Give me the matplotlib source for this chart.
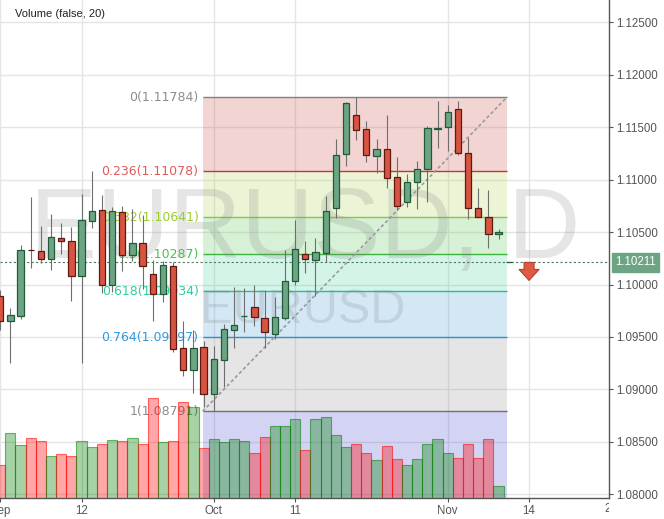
import numpy as np
import matplotlib
matplotlib.use('Agg')
import matplotlib.pyplot as plt
from matplotlib.ticker import FormatStrFormatter
from matplotlib.transforms import Bbox, TransformedBbox, offset_copy

# EURUSD daily bars (index 0 = first bar at the left edge)
opens = [1.09891, 1.09655, 1.09703, 1.10330, 1.10320, 1.10241, 1.10441, 1.10412, 1.10079, 1.10603,
         1.10708, 1.09993, 1.10695, 1.10282, 1.10393, 1.10098, 1.09913, 1.10174, 1.09392, 1.09183,
         1.09402, 1.08954, 1.09278, 1.09564, 1.09697, 1.09783, 1.09678, 1.09526, 1.09678, 1.10031,
         1.10291, 1.10231, 1.10298, 1.10727, 1.11242, 1.11614, 1.11480, 1.11229, 1.11290, 1.11023,
         1.10784, 1.10975, 1.11105, 1.11480, 1.11499, 1.11671, 1.11251, 1.10727, 1.10641, 1.10479,
         1.10211]
highs = [1.09948, 1.09777, 1.10377, 1.10835, 1.10558, 1.10673, 1.10587, 1.10549, 1.10863, 1.11083,
         1.10854, 1.10740, 1.10749, 1.10718, 1.10663, 1.10234, 1.10222, 1.10215, 1.09650, 1.09567,
         1.09462, 1.09414, 1.09624, 1.09977, 1.09967, 1.09993, 1.09948, 1.09878, 1.10330, 1.10616,
         1.10412, 1.10441, 1.10844, 1.11388, 1.11741, 1.11784, 1.11559, 1.11388, 1.11617, 1.11216,
         1.11057, 1.11178, 1.11512, 1.11750, 1.11715, 1.11750, 1.11394, 1.10921, 1.10902, 1.10530,
         1.10211]
lows = [1.09567, 1.09249, 1.09675, 1.10161, 1.10208, 1.10142, 1.10294, 1.09846, 1.09255, 1.10542,
        1.09922, 1.09932, 1.10126, 1.10222, 1.09961, 1.09650, 1.09834, 1.09357, 1.09128, 1.08963,
        1.08836, 1.08791, 1.09026, 1.09398, 1.09551, 1.09605, 1.09398, 1.09478, 1.09660, 1.09999,
        1.10113, 1.09891, 1.10218, 1.10639, 1.11133, 1.11378, 1.11171, 1.11061, 1.10924, 1.10714,
        1.10742, 1.10723, 1.10787, 1.11305, 1.11276, 1.11238, 1.10628, 1.10641, 1.10351, 1.10437,
        1.10211]
closes = [1.09655, 1.09710, 1.10330, 1.10325, 1.10241, 1.10451, 1.10412, 1.10079, 1.10613, 1.10698,
          1.09993, 1.10704, 1.10279, 1.10393, 1.10174, 1.09907, 1.10184, 1.09389, 1.09183, 1.09392,
          1.08954, 1.09290, 1.09573, 1.09612, 1.09703, 1.09688, 1.09545, 1.09688, 1.10031, 1.10336,
          1.10244, 1.10308, 1.10698, 1.11232, 1.11728, 1.11471, 1.11232, 1.11290, 1.11019, 1.10752,
          1.10975, 1.11099, 1.11490, 1.11496, 1.11642, 1.11251, 1.10727, 1.10641, 1.10479, 1.10498,
          1.10211]
# volume has no scale on the chart, relative units
volume = [41, 80, 66, 74, 70, 52, 54, 52, 70, 63,
          67, 72, 71, 74, 67, 123, 69, 71, 118, 112,
          62, 73, 69, 73, 71, 55, 75, 89, 89, 98,
          59, 97, 100, 78, 63, 67, 56, 47, 64, 48,
          41, 48, 67, 73, 56, 50, 67, 49, 73, 15,
          0]

date_ticks = [0, 8, 21, 29, 44, 52]
date_labels = ['Sep', '12', 'Oct', '11', 'Nov', '14']

fib_ratios = ['0', '0.236', '0.382', '0.5', '0.618', '0.764', '1']
fib_prices = [1.11784, 1.11078, 1.10641, 1.10287, 1.09934, 1.09497, 1.08791]
fib_start, fib_end = 19.9, 49.8
last_price = 1.10211
signal_bar = 52

line_cols = ['#808080', '#c8372d', '#8cc63f', '#3cb43c', '#1fbf99', '#2d93d8', '#707070']
text_cols = ['#8c8c8c', '#e05a5a', '#9ccc2c', '#45c645', '#2ccf9f', '#3399dd', '#8c8c8c']
fill_cols = ['#cf5753', '#b3d75b', '#5fcb5f', '#57d7a7', '#53a3d7', '#9b9b9b', '#5353d3']

plt.rcParams['font.family'] = ['Liberation Sans', 'DejaVu Sans']

fig = plt.figure(figsize=(6.64, 5.19), dpi=100)
ax = fig.add_axes([0, 21 / 519, 609 / 664, 498 / 519])

idx = np.arange(len(opens))
up = [c >= o for o, c in zip(opens, closes)]

# fib retracement box
ylo = 1.07965
for i in range(len(fib_prices)):
    lower = fib_prices[i + 1] if i + 1 < len(fib_prices) else ylo - 0.001
    ax.fill_between([fib_start, fib_end], fib_prices[i], lower, color=fill_cols[i],
                    alpha=0.25, lw=0, zorder=1)
ax.hlines(fib_prices, fib_start, fib_end, colors=line_cols, lw=1, zorder=1.5)
for r, p, c in zip(fib_ratios, fib_prices, text_cols):
    ax.annotate(f'{r}({p:.5f})', xy=(fib_start, p), xytext=(-4, 0), textcoords='offset pixels',
                ha='right', va='center', color=c, fontsize=9, family='DejaVu Sans', zorder=2)
ax.plot([fib_start, fib_end], [fib_prices[-1], fib_prices[0]], color='#9a9a9a', lw=1.2,
        ls=(0, (2, 1.5)), zorder=2.2)

# watermark
ax.text(0.049, 0.482, 'EURUSD, D', transform=ax.transAxes, fontsize=72, color='#808080',
        alpha=0.2, ha='left', va='baseline', zorder=1.6)
ax.text(0.328, 0.351, 'EURUSD', transform=ax.transAxes, fontsize=35, color='#808080',
        alpha=0.2, ha='left', va='baseline', zorder=1.6)

# volume overlay on the bottom of the pane
vol_top = 5 * max(volume)
vol_face = [(0, 0.5, 0, 0.35) if u else (1, 0, 0, 0.35) for u in up]
vol_edge = [(0, 0.5, 0, 0.55) if u else (1, 0, 0, 0.55) for u in up]
ax.bar(idx, [v / vol_top for v in volume], bottom=0, width=1.0, transform=ax.get_xaxis_transform(),
       color=vol_face, edgecolor=vol_edge, lw=0.8, zorder=2.5)

# candles
bot = [min(o, c) for o, c in zip(opens, closes)]
hgt = [abs(c - o) for o, c in zip(opens, closes)]
ax.vlines(idx, lows, highs, color='#6f6f6f', lw=0.8, zorder=3)
ax.bar(idx, hgt, bottom=bot, width=0.62,
       color=['#6ba583' if u else '#d75442' for u in up],
       edgecolor=['#225a3a' if u else '#5e1a10' for u in up], lw=0.9, zorder=3.2)

ax.axhline(last_price, color='#4a7a5e', lw=0.8, ls=(0, (2, 2)), zorder=2.8)
ax.text(1.0098, last_price, f'{last_price:.5f}', transform=ax.get_yaxis_transform(),
        color='white', fontsize=8.3, ha='left', va='center', clip_on=False,
        bbox=dict(boxstyle='square,pad=0.3', fc='#6ba583', ec='#6ba583'))

tip = offset_copy(ax.transData, fig=fig, x=0, y=-18, units='dots')
ax.annotate('', xy=(signal_bar, last_price), xycoords=tip, xytext=(signal_bar, last_price),
            textcoords='data', annotation_clip=False,
            arrowprops=dict(arrowstyle='simple,head_length=0.79,head_width=1.44,tail_width=0.72',
                            fc='#dd5a43', ec='#b5412e', lw=0.8, shrinkA=0, shrinkB=0,
                            mutation_scale=10))

ax.text(0.0246, 0.972, 'Volume (false, 20)', transform=ax.transAxes, fontsize=8,
        color='#222222', va='center', ha='left')

ax.set_xlim(-0.02, 59.86)
ax.set_ylim(ylo, 1.12713)
ax.set_xticks(date_ticks)
ax.set_xticklabels(date_labels)
ax.set_yticks(np.arange(1.08, 1.1251, 0.005))
ax.yaxis.set_major_formatter(FormatStrFormatter('%.5f'))
ax.yaxis.tick_right()
ax.grid(color='#e4e4e4', lw=1)
ax.set_axisbelow(True)
ax.tick_params(axis='both', length=3, width=0.8, color='#555555', labelcolor='#555555',
               labelsize=8.3, pad=2)
for s in ['top', 'left']:
    ax.spines[s].set_visible(False)
for s in ['bottom', 'right']:
    ax.spines[s].set_color('#555555')
    ax.spines[s].set_linewidth(1)

# last date label is cut off by the price scale
t = ax.text(60, -0.011, '21', transform=ax.get_xaxis_transform(), ha='center', va='top',
            fontsize=8.3, color='#555555')
t.set_clip_box(TransformedBbox(Bbox([[0, 0], [609 / 664, 1]]), fig.transFigure))
t.set_clip_on(True)

fig.savefig('out.png', dpi=100)
